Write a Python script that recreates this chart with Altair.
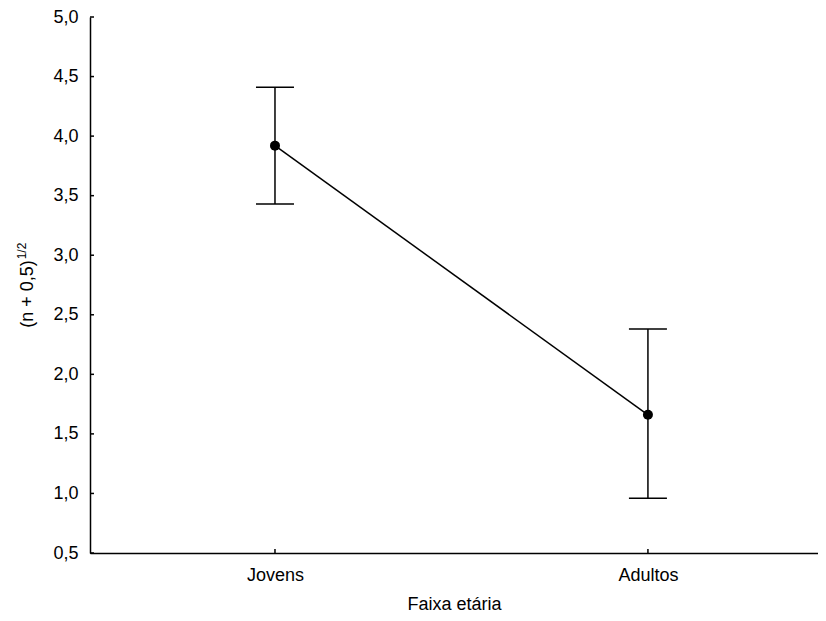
import altair as alt
import pandas as pd

groups = ["Jovens", "Adultos"]
means = [3.92, 1.66]
lower = [3.43, 0.96]
upper = [4.41, 2.38]
y_ticks = [0.5, 1.0, 1.5, 2.0, 2.5, 3.0, 3.5, 4.0, 4.5, 5.0]

df = pd.DataFrame({"grupo": groups, "media": means, "lo": lower, "hi": upper})
ticks_df = pd.DataFrame({"v": y_ticks})

W, H = 728, 536
FONT = "Liberation Sans"
FS = 18

xscale = alt.Scale(type="point", domain=groups, padding=0.476, align=0.521)
yscale = alt.Scale(domain=[0.5, 5.0], nice=False, zero=False)

x_enc = alt.X(
    "grupo:N", scale=xscale, sort=groups,
    axis=alt.Axis(title="Faixa etária", labelAngle=0, ticks=False, tickSize=0,
                  domainColor="black", domainWidth=1.5, labelFontSize=FS,
                  labelColor="black", labelPadding=13, labelFont=FONT,
                  titleFont=FONT, titleFontSize=FS, titleFontWeight="normal",
                  titleColor="black", titlePadding=11, grid=False),
)
y_axis = alt.Axis(values=y_ticks, ticks=False, tickSize=0, domainColor="black",
                  domainWidth=1.5, labelFontSize=FS, labelColor="black",
                  labelPadding=12, labelFont=FONT, grid=False, title=None,
                  labelExpr="replace(format(datum.value, '.1f'), '.', ',')")

base = alt.Chart(df)

line = base.mark_line(color="black", strokeWidth=1.5).encode(
    x=x_enc, y=alt.Y("media:Q", scale=yscale, axis=y_axis)
)
err = base.mark_rule(color="black", strokeWidth=1.5).encode(
    x=x_enc, y=alt.Y("lo:Q", scale=yscale), y2="hi:Q"
)
cap_hi = base.mark_tick(color="black", thickness=1.5, size=38, opacity=1).encode(
    x=x_enc, y=alt.Y("hi:Q", scale=yscale)
)
cap_lo = base.mark_tick(color="black", thickness=1.5, size=38, opacity=1).encode(
    x=x_enc, y=alt.Y("lo:Q", scale=yscale)
)
pts = base.mark_point(filled=True, color="black", size=100, opacity=1).encode(
    x=x_enc, y=alt.Y("media:Q", scale=yscale)
)

ytick_marks = alt.Chart(ticks_df).mark_rule(color="black", strokeWidth=1.5).encode(
    y=alt.Y("v:Q", scale=yscale), x=alt.value(0), x2=alt.value(4)
)
xtick_marks = base.mark_rule(color="black", strokeWidth=1.5).encode(
    x=x_enc, y=alt.value(H - 4), y2=alt.value(H)
)

title_main = alt.Chart(pd.DataFrame({"t": ["(n + 0,5)"]})).mark_text(
    angle=270, font=FONT, fontSize=18, color="black", align="center", baseline="middle"
).encode(text="t:N", x=alt.value(-62), y=alt.value(277))
title_sup = alt.Chart(pd.DataFrame({"t": ["1/2"]})).mark_text(
    angle=270, font=FONT, fontSize=12, color="black", align="center", baseline="middle"
).encode(text="t:N", x=alt.value(-68), y=alt.value(234))

chart = alt.layer(
    line, err, cap_hi, cap_lo, pts, ytick_marks, xtick_marks, title_main, title_sup
).properties(
    width=W, height=H,
    autosize=alt.AutoSizeParams(type="none"),
    padding={"left": 82, "top": 9, "right": 0, "bottom": 60},
    background="white",
).configure_view(stroke=None)

chart.save("out.html", embed_options={"renderer": "svg", "actions": False})
